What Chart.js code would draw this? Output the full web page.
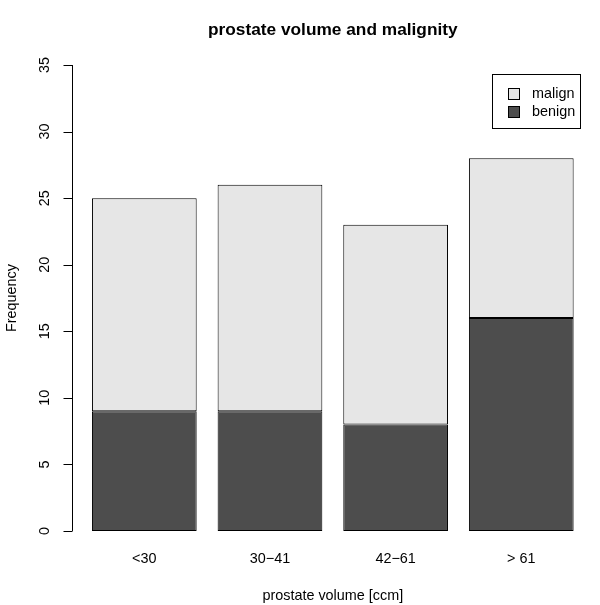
<!DOCTYPE html>
<html>
<head>
<meta charset="utf-8">
<script src="https://cdn.jsdelivr.net/npm/chart.js@4/dist/chart.umd.min.js"></script>
<style>
  body { margin: 0; background: #fff; }
  #wrap { width: 600px; height: 605px; }
</style>
</head>
<body>
<div id="wrap"><canvas id="myChart" width="600" height="605"></canvas></div>
<script>
// data
const categories = ['<30', '30\u221241', '42\u221261', '> 61'];
const benign = [9, 9, 8, 16];
const malign = [16, 17, 15, 12];
const yTicks = [0, 5, 10, 15, 20, 25, 30, 35];
const seriesNames = ['malign', 'benign'];

const FONT = '"Liberation Sans", Arial, sans-serif';
const BENIGN_COLOR = '#4d4d4d';
const MALIGN_COLOR = '#e6e6e6';

// R barplot style positions: bar i spans [0.2 + 1.2*i, 1.2 + 1.2*i]
const xPos = categories.map((c, i) => 0.7 + 1.2 * i);

// draws the R style axes, labels, title and legend
const rStyle = {
  id: 'rStyle',
  afterDraw(chart) {
    const c = chart.ctx;
    const area = chart.chartArea;
    const ys = chart.scales.y;
    const xs = chart.scales.x;
    c.save();
    c.strokeStyle = '#000';
    c.fillStyle = '#000';
    c.lineWidth = 1;

    // y axis
    const ax = Math.round(area.left) - 0.5;
    c.beginPath();
    c.moveTo(ax, ys.getPixelForValue(yTicks[0]));
    c.lineTo(ax, ys.getPixelForValue(yTicks[yTicks.length - 1]));
    yTicks.forEach(t => {
      const py = Math.round(ys.getPixelForValue(t)) + 0.5;
      c.moveTo(ax, py);
      c.lineTo(ax - 9, py);
    });
    c.stroke();

    c.font = '14.4px ' + FONT;
    c.textAlign = 'center';
    c.textBaseline = 'middle';
    yTicks.forEach(t => {
      const py = ys.getPixelForValue(t);
      c.save();
      c.translate(45, py);
      c.rotate(-Math.PI / 2);
      c.fillText(String(t), 0, 0);
      c.restore();
    });

    // category labels
    categories.forEach((cat, i) => {
      c.fillText(cat, xs.getPixelForValue(xPos[i]), 559);
    });

    // axis titles
    const midX = (area.left + area.right) / 2;
    c.fillText('prostate volume [ccm]', midX, 596);
    c.save();
    c.translate(12, (area.top + area.bottom) / 2);
    c.rotate(-Math.PI / 2);
    c.fillText('Frequency', 0, 0);
    c.restore();

    // main title
    c.font = 'bold 17.3px ' + FONT;
    c.fillText('prostate volume and malignity', midX, 30);

    // legend
    c.strokeStyle = '#000';
    c.strokeRect(492.5, 74.5, 88, 54);
    c.font = '14.4px ' + FONT;
    c.textAlign = 'left';
    const legendColors = [MALIGN_COLOR, BENIGN_COLOR];
    seriesNames.forEach((name, i) => {
      const cy = 94 + i * 18;
      c.fillStyle = legendColors[i];
      c.fillRect(508.5, cy - 5.5, 11, 11);
      c.strokeRect(508.5, cy - 5.5, 11, 11);
      c.fillStyle = '#000';
      c.fillText(name, 532, cy);
    });
    c.restore();
  }
};

const barStyle = {
  borderColor: '#000',
  borderWidth: 1,
  borderSkipped: false,
  categoryPercentage: 1,
  barPercentage: 1 / 1.2,
};

const ctx = document.getElementById('myChart');
new Chart(ctx, {
  type: 'bar',
  data: {
    datasets: [
      Object.assign({
        label: 'benign',
        data: benign.map((v, i) => ({ x: xPos[i], y: v })),
        backgroundColor: BENIGN_COLOR,
      }, barStyle),
      Object.assign({
        label: 'malign',
        data: malign.map((v, i) => ({ x: xPos[i], y: v })),
        backgroundColor: MALIGN_COLOR,
      }, barStyle),
    ],
  },
  options: {
    responsive: false,
    animation: false,
    layout: { padding: { left: 72.7, right: 7.1, top: 46.4, bottom: 55.4 } },
    plugins: { legend: { display: false }, tooltip: { enabled: false }, title: { display: false } },
    scales: {
      x: {
        type: 'linear', min: 0.016, max: 4.984, offset: false, stacked: true, display: false,
        afterBuildTicks: s => { s.ticks = xPos.map(v => ({ value: v })); },
      },
      y: { min: -1.4, max: 36.4, stacked: true, display: false },
    },
  },
  plugins: [rStyle],
});
</script>
</body>
</html>
